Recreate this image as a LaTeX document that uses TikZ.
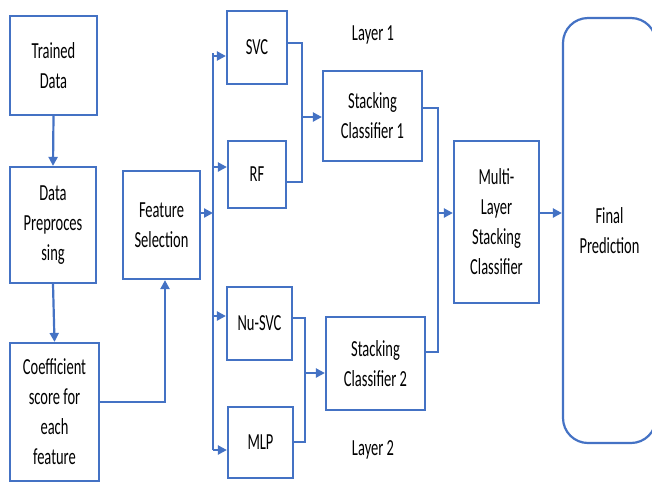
\documentclass[tikz,border=0pt]{standalone}
\usepackage{fontspec}
\setmainfont{Carlito}[FakeStretch=0.63]
\usetikzlibrary{arrows.meta,calc}
\definecolor{bl}{HTML}{4472C4}
\begin{document}
\begin{tikzpicture}[x=1pt,y=-1pt,
 box/.style={draw=bl,line width=2.2pt,align=center,inner sep=0pt,font=\fontsize{23}{30}\selectfont,text=black},
 conn/.style={draw=bl,line width=2.2pt},
 arr/.style={conn,-{Triangle[length=9pt,width=9pt]}},
 lbl/.style={font=\fontsize{23}{30}\selectfont,text=black}]
\useasboundingbox (0,0) rectangle (652,483);
\node[box,minimum width=87,minimum height=99] (TD) at (53.5,65.5) {Trained\\Data};
\node[box,minimum width=86,minimum height=116] (DP) at (53,225) {Data\\Preproces\\sing};
\node[box,minimum width=89,minimum height=138] (CS) at (54.5,412) {Coefficient\\score for\\each\\feature};
\node[box,minimum width=77,minimum height=108] (FS) at (161.5,225) {Feature\\Selection};
\node[box,minimum width=60,minimum height=73] (SVC) at (257,47.5) {SVC};
\node[box,minimum width=58,minimum height=67] (RF) at (257,174.5) {RF};
\node[box,minimum width=65,minimum height=73] (NU) at (259.5,323.5) {Nu-SVC};
\node[box,minimum width=65,minimum height=71] (MLP) at (260.5,442.5) {MLP};
\node[box,minimum width=99,minimum height=90] (SC1) at (372.5,116) {Stacking\\Classifier 1};
\node[box,minimum width=99,minimum height=93] (SC2) at (375.5,363.5) {Stacking\\Classifier 2};
\node[box,minimum width=85,minimum height=162] (ML) at (496.5,222) {Multi-\\Layer\\Stacking\\Classifier};
\begin{scope}
\clip (0,0) rectangle (652,483);
\node[box,rounded corners=25pt,minimum width=93,minimum height=425] (FP) at (609.5,230.5) {Final\\Prediction};
\end{scope}
\node[lbl] (L1) at (373,35) {Layer 1};
\node[lbl] (L2) at (373,450) {Layer 2};
% left column
\draw[arr] (TD.south) -- (DP.north);
\draw[arr] (DP.south) -- (CS.north);
\coordinate (c1) at (165,402);
\draw[arr] (CS.east |- c1) -- (c1) -- (c1 |- FS.south);
% bus
\coordinate (bt) at (213,53);
\coordinate (bb) at (213,450);
\coordinate (fsb) at (213,213);
\draw[arr] (FS.east |- fsb) -- (fsb);
\draw[conn] (bt) -- (bb);
\coordinate (b1) at (213,56);
\coordinate (b2) at (213,167);
\coordinate (b3) at (213,316);
\coordinate (b4) at (213,450);
\draw[arr] (b1) -- (b1 -| SVC.west);
\draw[arr] (b2) -- (b2 -| RF.west);
\draw[arr] (b3) -- (b3 -| NU.west);
\draw[arr] (b4) -- (b4 -| MLP.west);
% merge 1
\coordinate (m1a) at (302,43);
\coordinate (m1b) at (302,182);
\coordinate (m1) at (302,117);
\draw[conn] (SVC.east |- m1a) -- (m1a) -- (m1b) -- (RF.east |- m1b);
\draw[arr] (m1) -- (m1 -| SC1.west);
% merge 2
\coordinate (m2a) at (305,318);
\coordinate (m2b) at (305,442);
\coordinate (m2) at (305,373);
\draw[conn] (NU.east |- m2a) -- (m2a) -- (m2b) -- (MLP.east |- m2b);
\draw[arr] (m2) -- (m2 -| SC2.west);
% merge 3
\coordinate (m3a) at (438,108);
\coordinate (m3b) at (438,352);
\coordinate (m3) at (438,213);
\draw[conn] (SC1.east |- m3a) -- (m3a) -- (m3b) -- (SC2.east |- m3b);
\draw[arr] (m3) -- (m3 -| ML.west);
\coordinate (m4) at (539,213);
\draw[arr] (m4) -- (m4 -| FP.west);
\end{tikzpicture}
\end{document}
